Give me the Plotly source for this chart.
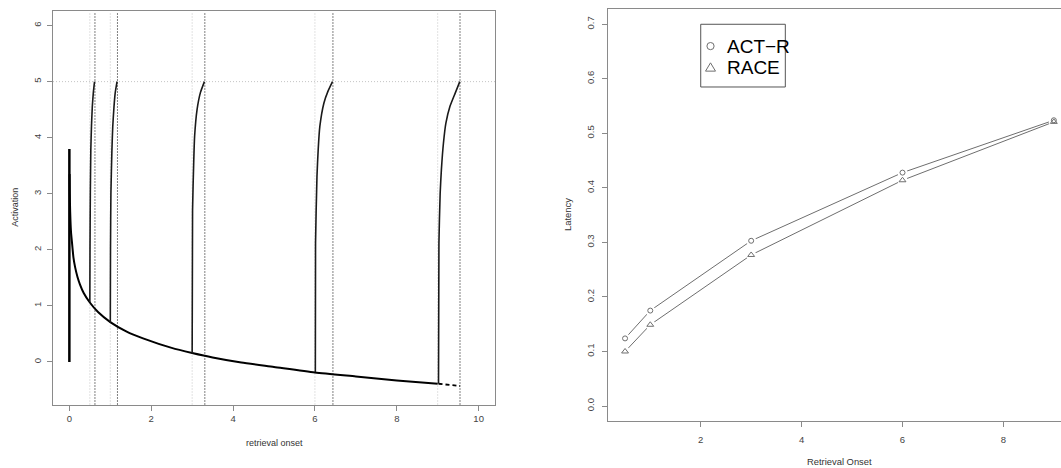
import plotly.graph_objects as go

# ---------------- data ----------------
# left panel: activation decay and retrievals
decay_t = [0.005, 0.01, 0.02, 0.04, 0.06, 0.1, 0.14, 0.2, 0.26, 0.35, 0.5, 0.7, 1.0,
           1.4, 1.8, 2.5, 3.0, 3.5, 4.2, 5.0, 6.0, 7.0, 8.0, 9.0]
decay_a = [3.35, 3.0, 2.67, 2.32, 2.16, 1.86, 1.69, 1.51, 1.38, 1.23, 1.06, 0.89, 0.71,
           0.54, 0.42, 0.25, 0.16, 0.08, -0.01, -0.09, -0.19, -0.26, -0.33, -0.39]
tail_t = [9.02, 9.545]
tail_a = [-0.39, -0.43]
start_t = [0, 0]
start_a = [0, 3.8]

onsets = [0.5, 1.0, 3.0, 6.0, 9.0]
ends = [0.625, 1.175, 3.31, 6.44, 9.545]
threshold = 5

rise_t = [
    [0.50, 0.504, 0.512, 0.524, 0.54, 0.56, 0.585, 0.615],
    [1.00, 1.005, 1.015, 1.04, 1.06, 1.09, 1.12, 1.165],
    [3.00, 3.01, 3.04, 3.06, 3.12, 3.20, 3.30],
    [6.01, 6.015, 6.05, 6.08, 6.12, 6.22, 6.32, 6.43],
    [9.02, 9.03, 9.06, 9.09, 9.14, 9.20, 9.30, 9.43, 9.54],
]
rise_a = [
    [1.07, 2.0, 3.0, 3.79, 4.2, 4.55, 4.8, 5.0],
    [0.70, 2.0, 3.0, 3.79, 4.2, 4.55, 4.8, 5.0],
    [0.15, 2.71, 3.61, 4.02, 4.5, 4.8, 5.0],
    [-0.18, 2.12, 3.31, 3.79, 4.2, 4.62, 4.83, 5.0],
    [-0.39, 2.12, 3.01, 3.43, 3.9, 4.26, 4.56, 4.8, 5.0],
]

# right panel: latency vs retrieval onset
onset_r = [0.5, 1, 3, 6, 9]
actr_lat = [0.124, 0.175, 0.303, 0.428, 0.524]
race_lat = [0.100, 0.149, 0.277, 0.414, 0.521]
series_names = ["ACT\u2212R", "RACE"]

left_xticks = [0, 2, 4, 6, 8, 10]
left_yticks = [0, 1, 2, 3, 4, 5, 6]
right_xticks = [2, 4, 6, 8]
right_yticks = [0.0, 0.1, 0.2, 0.3, 0.4, 0.5, 0.6, 0.7]

# ---------------- figure ----------------
W, H = 1061, 468
fig = go.Figure()

LIGHT = "#c4c4c4"
DARK = "#000000"

# reference lines
for t in onsets:
    fig.add_shape(type="line", xref="x", yref="y domain", x0=t, x1=t, y0=0, y1=0.995,
                  line=dict(color=LIGHT, width=1, dash="1px,2px"), layer="below")
for t in ends:
    fig.add_shape(type="line", xref="x", yref="y domain", x0=t, x1=t, y0=0, y1=0.995,
                  line=dict(color=DARK, width=1, dash="1px,2px"), layer="below")
fig.add_shape(type="line", xref="x domain", yref="y", x0=0, x1=1, y0=threshold, y1=threshold,
              line=dict(color=LIGHT, width=1, dash="1px,2px"), layer="below")

fig.add_trace(go.Scatter(x=decay_t, y=decay_a, mode="lines", xaxis="x", yaxis="y",
                         line=dict(color="black", width=2, shape="spline", smoothing=0.6),
                         showlegend=False, hoverinfo="skip"))
fig.add_trace(go.Scatter(x=tail_t, y=tail_a, mode="lines", xaxis="x", yaxis="y",
                         line=dict(color="black", width=1.8, dash="4px,3px"),
                         showlegend=False, hoverinfo="skip"))
fig.add_trace(go.Scatter(x=start_t, y=start_a, mode="lines", xaxis="x", yaxis="y",
                         line=dict(color="black", width=2.5),
                         showlegend=False, hoverinfo="skip"))
for rt, ra in zip(rise_t, rise_a):
    fig.add_trace(go.Scatter(x=rt, y=ra, mode="lines", xaxis="x", yaxis="y",
                             line=dict(color="#1a1a1a", width=1.6, shape="spline", smoothing=0.5),
                             showlegend=False, hoverinfo="skip"))

# right panel
GRAY = "#6e6e6e"
for ys in (actr_lat, race_lat):
    fig.add_trace(go.Scatter(x=onset_r, y=ys, mode="lines", xaxis="x2", yaxis="y2",
                             line=dict(color=GRAY, width=1), showlegend=False, hoverinfo="skip"))
for ys in (actr_lat, race_lat):
    fig.add_trace(go.Scatter(x=onset_r, y=ys, mode="markers", xaxis="x2", yaxis="y2",
                             marker=dict(color="white", size=10, line=dict(width=0)),
                             showlegend=False, hoverinfo="skip"))
fig.add_trace(go.Scatter(x=onset_r, y=actr_lat, mode="markers", xaxis="x2", yaxis="y2",
                         name=series_names[0],
                         marker=dict(symbol="circle-open", size=5, color=GRAY, line=dict(width=1)),
                         showlegend=False))
fig.add_trace(go.Scatter(x=onset_r, y=race_lat, mode="markers", xaxis="x2", yaxis="y2",
                         name=series_names[1],
                         marker=dict(symbol="triangle-up-open", size=6, color=GRAY, line=dict(width=1)),
                         showlegend=False))

# legend box (R-style) placed at x=2, y=0.7 of the right panel
LX, LY = 2, 0.7
fig.add_shape(type="rect", xref="x2", yref="y2", x0=LX, y0=LY, x1=LX + 1.677, y1=LY - 0.115,
              line=dict(color="#555555", width=1), fillcolor="white", layer="above")
leg_rows = [LY - 0.040, LY - 0.0795]
fig.add_shape(type="circle", xref="x2", yref="y2", xsizemode="pixel", ysizemode="pixel",
              xanchor=LX + 0.194, yanchor=leg_rows[0], x0=-3.6, x1=3.6, y0=-3.6, y1=3.6,
              line=dict(color=GRAY, width=1), layer="above")
fig.add_shape(type="path", xref="x2", yref="y2", xsizemode="pixel", ysizemode="pixel",
              xanchor=LX + 0.194, yanchor=leg_rows[1], path="M -5,-3.5 L 5,-3.5 L 0,4.8 Z",
              line=dict(color=GRAY, width=1), layer="above")
for name, yy in zip(series_names, leg_rows):
    fig.add_annotation(xref="x2", yref="y2", x=LX + 0.476, y=yy, text=name, showarrow=False,
                       xanchor="left", yanchor="middle",
                       font=dict(family="Liberation Sans, Arial", size=19, color="black"))

# axis titles
TFONT = dict(family="Liberation Sans, Arial", size=9, color="#333333")
fig.add_annotation(xref="paper", yref="paper", x=274 / W, y=1 - 443 / H, text="retrieval onset",
                   showarrow=False, xanchor="center", yanchor="middle", font=TFONT)
fig.add_annotation(xref="paper", yref="paper", x=15 / W, y=1 - 207.7 / H, text="Activation",
                   showarrow=False, xanchor="center", yanchor="middle", textangle=-90, font=TFONT)
TFONT2 = dict(family="Liberation Sans, Arial", size=9.4, color="#333333")
fig.add_annotation(xref="paper", yref="paper", x=839.5 / W, y=1 - 461 / H, text="Retrieval Onset",
                   showarrow=False, xanchor="center", yanchor="middle", font=TFONT2)
fig.add_annotation(xref="paper", yref="paper", x=568 / W, y=1 - 215 / H, text="Latency",
                   showarrow=False, xanchor="center", yanchor="middle", textangle=-90, font=TFONT2)

axis_common = dict(showgrid=False, zeroline=False, showline=True, linecolor="#8a8a8a", linewidth=1,
                   ticks="outside", ticklen=5, tickcolor="#8a8a8a", tickwidth=1)
tickfont1 = dict(family="Liberation Sans, Arial", size=9.5, color="#444444")
tickfont2 = dict(family="Liberation Sans, Arial", size=9.5, color="#444444")

fig.update_layout(
    width=W, height=H,
    margin=dict(l=0, r=0, t=0, b=0),
    paper_bgcolor="white", plot_bgcolor="white",
    showlegend=False,
    xaxis=dict(domain=[53 / W, 495 / W], range=[-0.4, 10.4], tickvals=left_xticks,
               mirror=True, tickfont=tickfont1, anchor="y", **axis_common),
    yaxis=dict(domain=[1 - 404.5 / H, 1 - 11 / H], range=[-0.76, 6.26], tickvals=left_yticks,
               mirror=True, tickangle=-90, tickfont=tickfont1, anchor="x",
               ticklabelstandoff=2, **axis_common),
    xaxis2=dict(domain=[607.9 / W, 1.0], range=[0.16, 9.142], tickvals=right_xticks,
                mirror=True, tickfont=tickfont2, anchor="y2", ticklabelstandoff=4, **axis_common),
    yaxis2=dict(domain=[1 - 421.3 / H, 1 - 9 / H], range=[-0.028, 0.728], tickvals=right_yticks,
                ticktext=[f"{v:.1f}" for v in right_yticks],
                mirror=False, tickangle=-90, tickfont=tickfont2, anchor="x2",
                ticklabelstandoff=4, **axis_common),
)

fig.write_html("out.html", config={"displayModeBar": False},
               post_script="document.body.style.margin='0px';")
